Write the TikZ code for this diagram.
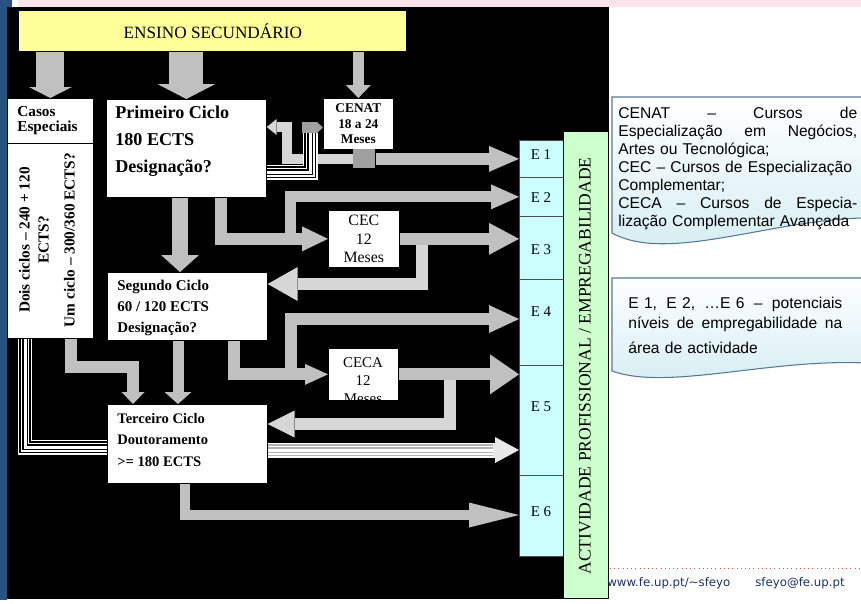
\documentclass[tikz,border=0pt]{standalone}
\usepackage{fontspec}
\setmainfont{Liberation Serif}
\newfontfamily\arialfont{Liberation Sans}
\newfontfamily\dejafont{DejaVu Sans}
\usetikzlibrary{arrows.meta}

\definecolor{arrgray}{RGB}{192,192,192}
\definecolor{arrlight}{RGB}{214,214,214}
\definecolor{arrpale}{RGB}{232,232,232}
\definecolor{arrdark}{RGB}{160,160,160}
\definecolor{secyel}{RGB}{255,255,153}
\definecolor{ecyan}{RGB}{204,255,255}
\definecolor{actgreen}{RGB}{204,255,204}
\definecolor{slideblue}{RGB}{40,82,128}
\definecolor{slidepink}{RGB}{251,228,231}
\definecolor{noteline}{RGB}{84,120,150}
\definecolor{notefill}{RGB}{210,236,242}
\definecolor{footblue}{RGB}{25,50,100}
\definecolor{footred}{RGB}{200,90,80}

\tikzset{
  blk/.style n args={3}{draw=arrgray, line width=#1, line cap=butt, line join=miter,
    -{Triangle[width=#2,length=#3,line width=0pt]}},
  stripes/.style={draw=white, line width=0.06cm, line join=miter,
    preaction={draw=white, line width=0.30cm, line join=miter},
    preaction={draw=#1, line width=0.24cm, line join=miter},
    preaction={draw=white, line width=0.18cm, line join=miter},
    preaction={draw=#1, line width=0.12cm, line join=miter}},
  wbox/.style={fill=white, draw=black, line width=0.4pt, inner sep=0pt, anchor=north west},
  ebox/.style={fill=ecyan, draw=black!70, line width=0.4pt, inner sep=0pt,
    anchor=north west, minimum width=0.88cm},
  txt/.style={anchor=north west, align=left, inner sep=0pt},
}

\begin{document}
\begin{tikzpicture}[x=0.02cm, y=-0.02cm]
	\useasboundingbox (0,0) rectangle (861,603);
	\clip (0,0) rectangle (861,603);
	% slide background
	\fill[slidepink] (18,0) rectangle (861,7);
	\fill[slideblue] (0,0) rectangle (7,600);
	\fill[slideblue] (0,0) rectangle (12,7);
	\fill[black] (7,7) rectangle (609,599);

	% boxes
	\node[wbox, draw=none, fill=secyel, minimum width=7.74cm, minimum height=0.8cm,
	  font=\fontsize{9.8}{11}\selectfont] (sec) at (19,11) {ENSINO SECUNDÁRIO};
	\node[wbox, minimum width=1.72cm, minimum height=0.9cm] (casos) at (7,98) {};
	\node[wbox, minimum width=1.72cm, minimum height=3.9cm] (dois) at (7,143) {};
	\node[wbox, minimum width=3.2cm, minimum height=1.96cm] (prim) at (106,99) {};
	\node[wbox, minimum width=1.4cm, minimum height=1.02cm, align=center,
	  font=\fontsize{7.6}{8.8}\selectfont\bfseries] (cenat) at (323,98) {CENAT\\18 a 24\\Meses};
	\node[wbox, minimum width=1.42cm, minimum height=1.14cm, align=center,
	  font=\fontsize{9}{10.8}\selectfont] (cec) at (328,210) {CEC\\12\\Meses};
	\node[wbox, minimum width=3.2cm, minimum height=1.36cm] (seg) at (107,272) {};
	\node[wbox, minimum width=1.4cm, minimum height=1.04cm] (ceca) at (328,348) {};
	\node[wbox, minimum width=3.2cm, minimum height=1.58cm] (terc) at (107,404) {};
	\node[fill=arrdark, inner sep=0pt, anchor=north west, minimum width=0.44cm,
	  minimum height=0.38cm] (sq) at (353,149) {};

	% box texts
	\node[txt, font=\fontsize{8.7}{8.8}\selectfont\bfseries] (casostxt) at (17,106) {Casos\\Especiais};
	\node[rotate=90, align=center, inner sep=0pt, font=\fontsize{8.7}{10.8}\selectfont\bfseries]
	  (doistxt) at (47,240) {Dois ciclos – 240 + 120\\ECTS?\\[4pt]Um ciclo – 300/360 ECTS?};
	\node[txt, font=\fontsize{10.3}{15.3}\selectfont\bfseries] (primtxt) at (115,106)
	  {Primeiro Ciclo\\180 ECTS\\Designação?};
	\node[txt, font=\fontsize{8.5}{11.9}\selectfont\bfseries] (segtxt) at (117,280)
	  {Segundo Ciclo\\60 / 120 ECTS\\Designação?};
	\node[txt, font=\fontsize{8.3}{12.2}\selectfont\bfseries] (terctxt) at (117,413)
	  {Terceiro Ciclo\\Doutoramento\\>= 180 ECTS};
	\begin{scope}
		\clip (ceca.north west) rectangle (ceca.south east);
		\node[align=center, anchor=north, inner sep=0pt, font=\fontsize{8.5}{10.2}\selectfont]
		  (cecatxt) at (363,357) {CECA\\12\\Meses};
	\end{scope}

	% employability levels
	\foreach \n/\y/\h/\ly in {1/140/0.74/155, 2/177/0.78/198, 3/216/1.26/250,
	  4/279/1.72/312, 5/365/2.20/407, 6/475/1.62/512}{
		\node[ebox, minimum height=\h cm] (e\n) at (519,\y) {};
		\node[font=\fontsize{8.5}{10}\selectfont] (el\n) at (541,\ly) {E \n};
	}
	\node[ebox, fill=actgreen, draw=black, minimum width=0.9cm, minimum height=9.34cm] (act) at (563,131) {};
	\node[rotate=90, font=\fontsize{10}{12}\selectfont] (acttxt) at (585,366)
	  {ACTIVIDADE PROFISSIONAL / EMPREGABILIDADE};

	% lanes
	\coordinate (x4) at (180,0);
	\coordinate (x5) at (221,0);
	\coordinate (x6) at (290,0);
	\coordinate (x8) at (422,0);
	\coordinate (y8) at (0,284);
	\coordinate (x9) at (234,0);
	\coordinate (x10) at (291,0);
	\coordinate (y10) at (0,319);
	\coordinate (x12) at (450,0);
	\coordinate (y12) at (0,424);
	\coordinate (y13) at (0,450);
	\coordinate (x13) at (493,0);
	\coordinate (x14) at (185,0);
	\coordinate (y14) at (0,515);
	\coordinate (x15) at (178,0);
	\coordinate (x16) at (71,0);
	\coordinate (x16b) at (133,0);
	\coordinate (y16) at (0,367);
	\coordinate (x17) at (25,0);
	\coordinate (y17) at (0,447);
	\coordinate (x18) at (287,0);
	\coordinate (y18) at (0,127);
	\coordinate (y19) at (0,172);
	\coordinate (x19) at (310,0);
	\coordinate (y20) at (0,133);
	\coordinate (h19) at (302,127.5);

	% return arrows
	\draw[blk={0.20cm}{0.32cm}{0.20cm}, draw=arrlight] (sq.west) -| (x18 |- y18) -- (prim.east |- y18);
	\draw[blk={0.24cm}{0.68cm}{0.60cm}, draw=arrlight] (x8 |- cec.east) |- (seg.east |- y8);
	\draw[blk={0.24cm}{0.54cm}{0.54cm}, draw=arrlight] (x12 |- ceca.east) |- (terc.east |- y12);

	% main arrows
	\draw[blk={0.56cm}{0.86cm}{0.22cm}] (sec.south -| casos.north) -- (casos.north);
	\draw[blk={0.68cm}{1.16cm}{0.30cm}] (sec.south -| prim.north) -- (prim.north);
	\draw[blk={0.22cm}{0.50cm}{0.26cm}] (sec.south -| cenat.north) -- (cenat.north);
	\draw[blk={0.32cm}{0.76cm}{0.34cm}] (prim.south -| x4) -- (seg.north -| x4);
	\draw[blk={0.22cm}{0.50cm}{0.56cm}] (x6 |- cec.west) |- (e2.west);
	\draw[blk={0.24cm}{0.50cm}{0.52cm}] (prim.south -| x5) |- (cec.west);
	\draw[blk={0.24cm}{0.64cm}{0.60cm}] (cec.east) -- (cec.east -| e3.west);
	\draw[blk={0.24cm}{0.56cm}{0.60cm}] (x10 |- ceca.west) |- (e4.west |- y10);
	\draw[blk={0.24cm}{0.42cm}{0.46cm}] (seg.south -| x9) |- (ceca.west);
	\draw[blk={0.24cm}{0.80cm}{0.58cm}] (ceca.east) -- (ceca.east -| e5.west);
	\draw[blk={0.22cm}{0.54cm}{0.24cm}] (seg.south -| x15) -- (terc.north -| x15);
	\draw[blk={0.24cm}{0.46cm}{0.24cm}] (dois.south -| x16) |- (x16b |- y16) -- (terc.north -| x16b);
	\draw[blk={0.20cm}{0.50cm}{1.00cm}] (terc.south -| x14) |- (e6.west |- y14);
	\draw[blk={0.24cm}{0.52cm}{0.60cm}] (sq.east) -- (sq.east -| e1.west);

	% striped arrows
	\draw[stripes=black] (dois.south -| x17) |- (terc.west |- y17);
	\draw[stripes=black] (prim.east |- y19) -| (x19 |- y20);
	\draw[blk={0.22cm}{0.22cm}{0.12cm}, draw=arrdark] (h19) -- (h19 -| cenat.west);
	\draw[blk={0.30cm}{0.52cm}{0.48cm}, draw=arrpale] (terc.east |- y13) -- (e5.west |- y13);
	\draw[stripes=gray!60] (terc.east |- y13) -- (x13 |- y13);

	% notes
	\draw[noteline, line width=0.6pt, top color=white, bottom color=notefill]
	  (612,97) -- (880,97) -- (880,218) .. controls (780,215) and (670,265) .. (612,233) -- cycle;
	\node[txt, text width=4.78cm, font=\arialfont\fontsize{8.9}{10.2}\selectfont] (note1) at (618,107)
	  {CENAT \hfill – \hfill Cursos \hfill de\\
	   Especialização \hfill em \hfill Negócios,\\
	   Artes ou Tecnológica;\\
	   CEC – Cursos de Especialização\\
	   Complementar;\\
	   CECA \hfill – \hfill Cursos \hfill de \hfill Especia-\\
	   lização Complementar Avançada};
	\draw[noteline, line width=0.6pt, top color=white, bottom color=notefill]
	  (612,278) -- (880,278) -- (880,364) .. controls (780,355) and (670,392) .. (612,371) -- cycle;
	\node[txt, text width=4.28cm, font=\arialfont\fontsize{8.9}{11.3}\selectfont] (note2) at (628,297)
	  {E 1, \hfill E 2, \hfill …E 6 \hfill – \hfill potenciais\\
	   níveis \hfill de \hfill empregabilidade \hfill na\\[2.8pt]
	   área de actividade};

	% footer
	\draw[footred, dotted, line width=0.4pt] (610,568) -- (861,568);
	\node[anchor=west, inner sep=0pt, text=footblue, font=\dejafont\fontsize{6.7}{8}\selectfont]
	  (foot) at (607,583) {www.fe.up.pt/\textasciitilde sfeyo\hspace{0.5cm}sfeyo@fe.up.pt};
\end{tikzpicture}
\end{document}
